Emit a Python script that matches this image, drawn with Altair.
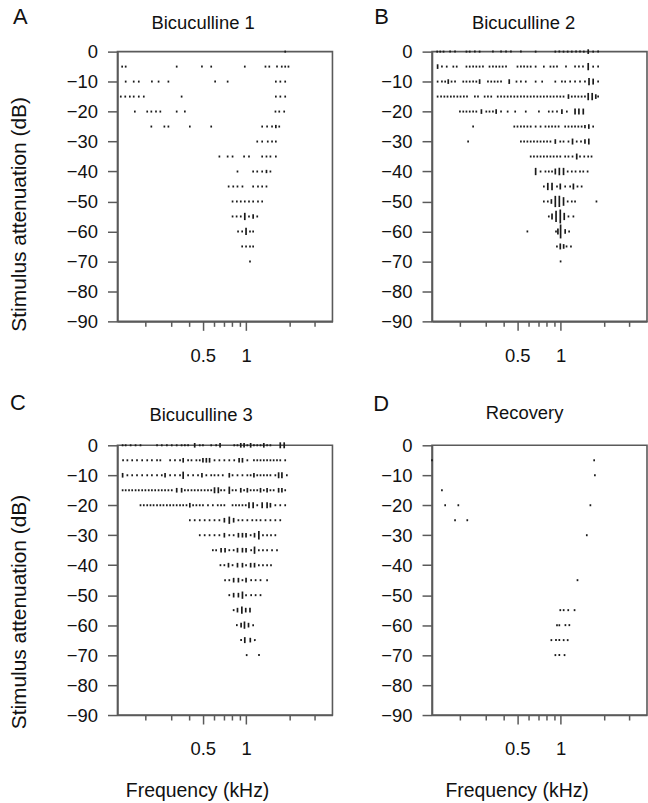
import altair as alt
import pandas as pd

FONT = "Liberation Sans"

# ---------------- data ----------------
X_TICKS = [0.2, 0.3, 0.4, 0.5, 0.6, 0.7, 0.8, 0.9, 1, 2, 3]
Y_TICKS = [-90, -80, -70, -60, -50, -40, -30, -20, -10, 0]
X_DOMAIN = [0.128, 3.98]
Y_DOMAIN = [-90, 0]

# Panel A: Bicuculline 1  (level dB -> frequencies kHz of single spikes)
A_DOTS = {
    0: [1.87],
    -5: [0.138, 0.146, 0.330, 0.494, 0.573, 0.98, 1.364, 1.45, 1.64, 1.77, 1.87, 1.97],
    -10: [0.146, 0.166, 0.180, 0.222, 0.247, 0.289, 0.61, 0.745, 1.61, 1.73, 1.87],
    -15: [0.135, 0.145, 0.156, 0.166, 0.180, 0.195, 0.357, 1.61, 1.73, 1.87],
    -20: [0.169, 0.206, 0.220, 0.237, 0.254, 0.330, 0.376, 1.60, 1.70, 1.84],
    -25: [0.220, 0.271, 0.289, 0.407, 0.573, 1.294, 1.40, 1.515, 1.70],
    -30: [1.196, 1.294, 1.415, 1.515, 1.61],
    -35: [0.653, 0.745, 0.806, 0.969, 1.048, 1.294, 1.386, 1.476, 1.61],
    -40: [0.872, 1.12, 1.196, 1.294, 1.476],
    -45: [0.757, 0.815, 0.872, 0.944, 1.12, 1.21, 1.294, 1.386],
    -50: [0.806, 0.863, 0.919, 0.98, 1.048, 1.12, 1.21, 1.294],
    -55: [0.806, 0.86, 0.919, 1.048, 1.196],
    -60: [0.88, 0.94, 1.065, 1.12],
    -65: [0.94, 1.0, 1.065, 1.12],
    -70: [1.065],
}
# (level, frequency, spike count) for stacked responses
A_BARS = [(-25, 1.61, 2), (-40, 1.386, 2), (-55, 0.98, 5), (-55, 1.12, 3), (-60, 1.0, 5)]

# Panel B: Bicuculline 2
B_DOTS = {
    0: [0.139, 0.146, 0.154, 0.171, 0.185, 0.222, 0.234, 0.254, 0.274, 0.339, 0.386, 0.418,
        0.452, 0.530, 0.671, 0.919, 0.98, 1.048, 1.12, 1.196, 1.28, 1.364, 1.45, 1.683, 1.822],
    -5: [0.150, 0.162, 0.180, 0.190, 0.222, 0.234, 0.247, 0.260, 0.274, 0.289, 0.321, 0.339,
         0.357, 0.376, 0.396, 0.418, 0.502, 0.530, 0.558, 0.588, 0.620, 0.671, 0.765, 0.850,
         0.895, 0.944, 1.09, 1.26, 1.34, 1.43, 1.683, 1.822],
    -10: [0.140, 0.150, 0.158, 0.175, 0.185, 0.211, 0.222, 0.234, 0.247, 0.260, 0.313, 0.330,
          0.348, 0.366, 0.386, 0.494, 0.530, 0.573, 0.671, 0.745, 0.919, 1.021, 1.076, 1.165,
          1.26, 1.364, 1.476, 1.822],
    -15: [0.140, 0.148, 0.156, 0.164, 0.173, 0.182, 0.192, 0.202, 0.213, 0.224, 0.254, 0.267,
          0.297, 0.313, 0.330, 0.366, 0.386, 0.407, 0.429, 0.452, 0.477, 0.502, 0.530, 0.558,
          0.588, 0.620, 0.653, 0.689, 0.726, 0.765, 0.806, 0.850, 0.895, 0.944, 0.995, 1.048,
          1.196, 1.26, 1.328, 1.40, 1.476, 1.822],
    -20: [0.200, 0.211, 0.222, 0.234, 0.247, 0.260, 0.305, 0.321, 0.339, 0.386, 0.429, 0.484,
          0.573, 0.707, 0.828, 0.88, 0.944, 1.105],
    -25: [0.247, 0.477, 0.502, 0.530, 0.558, 0.588, 0.620, 0.671, 0.726, 0.785, 0.828, 0.872,
          0.919, 0.969, 1.076, 1.134, 1.196, 1.26, 1.328, 1.40, 1.683],
    -30: [0.228, 0.530, 0.558, 0.588, 0.620, 0.653, 0.689, 0.726, 0.765, 0.806, 0.850, 0.995,
          1.048, 1.134, 1.294, 1.386],
    -35: [0.620, 0.653, 0.689, 0.726, 0.765, 0.806, 0.850, 0.895, 0.944, 0.995, 1.076, 1.134,
          1.21, 1.364, 1.46, 1.555, 1.640],
    -40: [0.726, 0.785, 0.828, 0.872, 1.12, 1.196, 1.27, 1.364, 1.437, 1.54],
    -45: [0.765, 0.944, 1.076, 1.165, 1.31, 1.40],
    -50: [0.765, 0.815, 1.12, 1.196, 1.26, 1.774],
    -55: [0.828, 1.134, 1.227],
    -60: [0.588, 0.929, 1.146],
    -65: [0.943, 1.10, 1.18],
    -70: [1.0],
}
B_BARS = [
    (0, 1.555, 3), (-5, 0.140, 3), (-5, 1.555, 5),
    (-10, 0.166, 3), (-10, 0.274, 3), (-10, 0.440, 3), (-10, 1.575, 5), (-10, 1.683, 4),
    (-15, 1.134, 3), (-15, 1.555, 5), (-15, 1.657, 5), (-15, 1.755, 3),
    (-20, 0.282, 3), (-20, 0.357, 3), (-20, 1.021, 3), (-20, 1.26, 4), (-20, 1.34, 4), (-20, 1.437, 4),
    (-25, 1.476, 2), (-25, 1.57, 3),
    (-30, 0.919, 3), (-30, 1.21, 4), (-30, 1.476, 3), (-30, 1.57, 4),
    (-35, 1.294, 4),
    (-40, 0.671, 5), (-40, 0.919, 4), (-40, 0.98, 5), (-40, 1.048, 5),
    (-45, 0.815, 5), (-45, 0.872, 5), (-45, 0.995, 4), (-45, 1.227, 4),
    (-50, 0.863, 3), (-50, 0.919, 8), (-50, 0.98, 8), (-50, 1.048, 6),
    (-55, 0.872, 4), (-55, 0.93, 8), (-55, 0.995, 10), (-55, 1.06, 5),
    (-60, 0.958, 4), (-60, 1.0, 10), (-60, 1.076, 3),
    (-65, 0.995, 4), (-65, 1.05, 3),
]

# Panel C: Bicuculline 3
C_DOTS = {
    0: [0.139, 0.146, 0.158, 0.171, 0.185, 0.241, 0.260, 0.282, 0.305, 0.330, 0.357, 0.376,
        0.396, 0.477, 0.502, 0.573, 0.620, 0.828, 0.872, 1.021, 1.134, 1.196, 1.26, 1.40, 1.476],
    -5: [0.140, 0.150, 0.162, 0.175, 0.190, 0.206, 0.222, 0.241, 0.254, 0.297, 0.321, 0.348,
         0.396, 0.418, 0.452, 0.477, 0.604, 0.653, 0.707, 0.765, 0.828, 1.021, 1.134, 1.196,
         1.26, 1.328, 1.40, 1.476, 1.555, 1.64, 1.728, 1.87],
    -10: [0.150, 0.162, 0.175, 0.190, 0.206, 0.222, 0.241, 0.260, 0.297, 0.321, 0.348, 0.396,
          0.429, 0.464, 0.530, 0.573, 0.604, 0.642, 0.689, 0.806, 0.872, 0.944, 1.021, 1.076,
          1.196, 1.26, 1.328, 1.40, 1.476, 1.597, 1.92],
    -15: [0.139, 0.146, 0.154, 0.162, 0.171, 0.180, 0.190, 0.200, 0.211, 0.222, 0.234, 0.247,
          0.260, 0.274, 0.289, 0.305, 0.376, 0.396, 0.418, 0.440, 0.464, 0.489, 0.516, 0.544,
          0.573, 0.671, 0.707, 0.806, 0.850, 0.969, 1.076, 1.134, 1.196, 1.328, 1.476, 1.555, 1.87],
    -20: [0.185, 0.195, 0.206, 0.217, 0.228, 0.241, 0.254, 0.267, 0.282, 0.297, 0.313, 0.330,
          0.348, 0.366, 0.386, 0.429, 0.452, 0.477, 0.502, 0.544, 0.588, 0.636, 0.671, 0.707,
          0.806, 0.850, 0.895, 0.944, 0.995, 1.196, 1.597, 1.728, 1.87],
    -25: [0.407, 0.440, 0.477, 0.516, 0.558, 0.604, 0.653, 0.885, 0.944, 1.021, 1.105, 1.18,
          1.26, 1.364, 1.476, 1.597, 1.728],
    -30: [0.477, 0.516, 0.558, 0.604, 0.653, 0.765, 0.82, 1.076, 1.31, 1.40, 1.49, 1.597],
    -35: [0.588, 0.620, 0.765, 0.82, 1.085, 1.227, 1.31, 1.40, 1.515, 1.64],
    -40: [0.664, 0.707, 0.806, 1.0, 1.227, 1.31, 1.40, 1.49],
    -45: [0.715, 0.765, 0.944, 1.085, 1.165, 1.26, 1.40],
    -50: [0.765, 1.0, 1.085, 1.165, 1.26],
    -55: [0.82],
    -60: [0.863, 1.12],
    -65: [0.924, 1.15],
    -70: [1.01, 1.23],
}
C_BARS = [
    (0, 0.440, 3), (0, 0.66, 3), (0, 0.919, 3), (0, 0.969, 3), (0, 1.076, 3), (0, 1.328, 3),
    (0, 1.728, 4), (0, 1.84, 4),
    (-5, 0.366, 3), (-5, 0.502, 3), (-5, 0.530, 3), (-5, 0.558, 3), (-5, 0.895, 3), (-5, 0.944, 3),
    (-10, 0.139, 3), (-10, 0.274, 3), (-10, 0.366, 5), (-10, 0.494, 3), (-10, 0.765, 3),
    (-10, 1.134, 3), (-10, 1.683, 4), (-10, 1.774, 4),
    (-15, 0.330, 3), (-15, 0.357, 3), (-15, 0.604, 4), (-15, 0.642, 4), (-15, 0.765, 5),
    (-15, 0.919, 3), (-15, 1.021, 3), (-15, 1.26, 3), (-15, 1.40, 3), (-15, 1.683, 3), (-15, 1.774, 3),
    (-20, 0.407, 3), (-20, 1.048, 4), (-20, 1.12, 4), (-20, 1.294, 4), (-20, 1.40, 4), (-20, 1.476, 3),
    (-25, 0.707, 3), (-25, 0.765, 5), (-25, 0.82, 3),
    (-30, 0.707, 3), (-30, 0.885, 3), (-30, 0.944, 3), (-30, 1.0, 3), (-30, 1.145, 3), (-30, 1.227, 6),
    (-35, 0.671, 3), (-35, 0.715, 3), (-35, 0.872, 3), (-35, 0.944, 3), (-35, 1.0, 3), (-35, 1.145, 5),
    (-40, 0.755, 3), (-40, 0.872, 3), (-40, 0.944, 3), (-40, 1.076, 3), (-40, 1.145, 3),
    (-45, 0.82, 3), (-45, 0.885, 3), (-45, 1.0, 3),
    (-50, 0.82, 3), (-50, 0.885, 3), (-50, 0.944, 5),
    (-55, 0.872, 3), (-55, 0.935, 5), (-55, 0.995, 3), (-55, 1.065, 3),
    (-60, 0.924, 3), (-60, 0.975, 5), (-60, 1.04, 3),
    (-65, 0.98, 4), (-65, 1.07, 3),
]

# Panel D: Recovery
D_DOTS = {
    -5: [0.128, 1.71],
    -10: [1.73],
    -15: [0.150],
    -20: [0.158, 0.195, 1.61],
    -25: [0.185, 0.225],
    -30: [1.52],
    -45: [1.31],
    -55: [0.995, 1.05, 1.13, 1.25],
    -60: [0.944, 0.98, 1.08, 1.15],
    -65: [0.863, 0.929, 0.98, 1.05, 1.12],
    -70: [0.92, 0.98, 1.065],
}
D_BARS = []

PANELS = [
    # letter, title, dots, bars
    ("A", "Bicuculline 1", A_DOTS, A_BARS),
    ("B", "Bicuculline 2", B_DOTS, B_BARS),
    ("C", "Bicuculline 3", C_DOTS, C_BARS),
    ("D", "Recovery", D_DOTS, D_BARS),
]

# ---------------- layout / style ----------------
W, H = 216, 271
AX = "#5a5a5a"
INK = "#1a1a1a"
# per panel: letter dx, letter dy, title dx, title dy (relative to the plot's top-left)
ANNOT = {
    "A": (-105, -27.5, 86, -22.5),
    "B": (-58, -27.5, 92, -22.5),
    "C": (-108, -35.5, 84, -24),
    "D": (-59, -34.5, 93, -26.5),
}


def panel_frame(dots, bars):
    rows = []
    for level, freqs in dots.items():
        for f in freqs:
            rows.append({"freq": f, "level": level, "n": 1})
    for level, f, n in bars:
        rows.append({"freq": f, "level": level, "n": n})
    return pd.DataFrame(rows)


def make_panel(letter, title, dots, bars, left_col, bottom_row):
    df = panel_frame(dots, bars)
    y_axis = dict(
        values=Y_TICKS, tickSize=10, tickWidth=1.5, tickColor=AX, domainColor=AX,
        domainWidth=1.6, labelFontSize=18.5, labelFont=FONT, labelColor="#111",
        labelPadding=10, grid=False,
    )
    if left_col:
        y_axis.update(
            title="Stimulus attenuation (dB)", titleFontSize=21, titleFont=FONT,
            titleFontWeight="normal", titleColor="#111", titleAngle=270,
            titleX=-92, titleY=163 if letter == "A" else 167,
            titleAlign="center", titleBaseline="alphabetic",
        )
    else:
        y_axis.update(title=None)

    x_axis = dict(
        values=X_TICKS,
        tickSize={"condition": {"test": "datum.value == 0.5 || datum.value == 1", "value": 9},
                  "value": 5},
        tickWidth=1.5, tickColor=AX, domainColor=AX, domainWidth=1.6,
        labelExpr="datum.value == 0.5 ? '0.5' : (datum.value == 1 ? '1' : '')",
        labelFontSize=18.5, labelFont=FONT, labelColor="#111", labelPadding=16,
        labelFlush=False, labelOverlap=False, grid=False,
    )
    if bottom_row:
        x_axis.update(
            title="Frequency (kHz)", titleFontSize=19.5, titleFont=FONT,
            titleFontWeight="normal", titleColor="#111",
            titleX=80 if letter == "C" else 85, titleY=82,
            titleAlign="center", titleBaseline="alphabetic",
        )
    else:
        x_axis.update(title=None)

    spikes = alt.Chart(df).mark_tick(
        orient="vertical", thickness=1.7, color=INK, opacity=1
    ).encode(
        x=alt.X("freq:Q", scale=alt.Scale(type="log", domain=X_DOMAIN, nice=False),
                axis=alt.Axis(**x_axis)),
        y=alt.Y("level:Q", scale=alt.Scale(domain=Y_DOMAIN, nice=False, zero=False),
                axis=alt.Axis(**y_axis)),
        size=alt.Size("n:Q", scale=alt.Scale(domain=[1, 10], range=[2, 14]), legend=None),
    )

    lx, ly, tx, ty = ANNOT[letter]
    letter_mark = alt.Chart(pd.DataFrame({"t": [letter]})).mark_text(
        align="left", baseline="alphabetic", fontSize=22, font=FONT, color="#111"
    ).encode(text="t:N", x=alt.value(lx), y=alt.value(ly))
    title_mark = alt.Chart(pd.DataFrame({"t": [title]})).mark_text(
        align="center", baseline="alphabetic", fontSize=18.5, font=FONT, color="#111"
    ).encode(text="t:N", x=alt.value(tx), y=alt.value(ty))

    return alt.layer(spikes, letter_mark, title_mark).properties(width=W, height=H)


A = make_panel(*PANELS[0], left_col=True, bottom_row=False)
B = make_panel(*PANELS[1], left_col=False, bottom_row=False)
C = make_panel(*PANELS[2], left_col=True, bottom_row=True)
D = make_panel(*PANELS[3], left_col=False, bottom_row=True)

chart = alt.concat(
    A, B, C, D, columns=2, spacing={"row": 124.5, "column": 100}, bounds="flush"
).properties(
    padding={"left": 8, "top": 3, "right": 0, "bottom": 0}, background="white"
).configure_view(stroke=AX, strokeWidth=1.6).resolve_scale(x="independent", y="independent")

chart.save("out.html", embed_options={"renderer": "svg", "actions": False})
